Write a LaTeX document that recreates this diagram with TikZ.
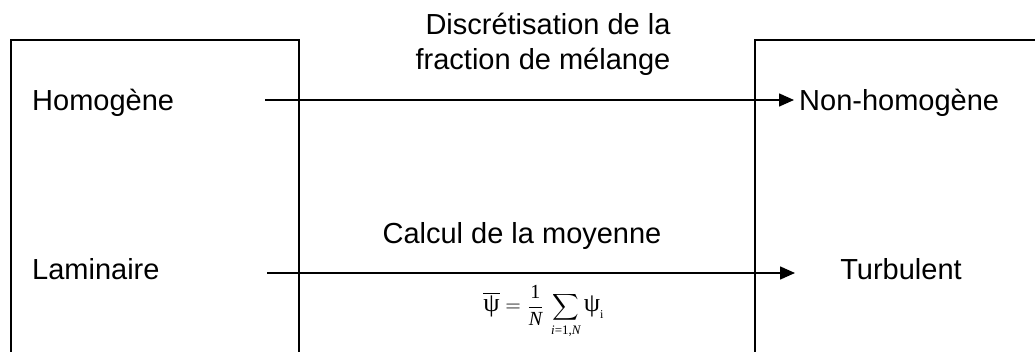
\documentclass[tikz,border=0pt]{standalone}
\usepackage{fontspec}
\setmainfont{Liberation Serif}
\newfontfamily\arialf{Liberation Sans}
\usetikzlibrary{arrows.meta}
\newcommand{\mypsi}{\mbox{\fontsize{13}{13}\selectfont ψ}}
\begin{document}
\begin{tikzpicture}[x=1pt,y=-1pt,
  box/.style={draw, line width=1.8pt, anchor=north west, inner sep=0pt, outer sep=0pt},
  lab/.style={font=\arialf\fontsize{29}{35}\selectfont, inner sep=0pt},
  formula/.style={font=\fontsize{10}{12}\selectfont, inner sep=0pt},
  arr/.style={line width=1.5pt, -{Triangle[length=15pt,width=13pt]}}]
\clip (0,0) rectangle (1035,352);
\fill[white] (0,0) rectangle (1035,352);
% boxes
\node[box, minimum width=288pt, minimum height=380pt] (leftbox) at (11,40) {};
\node[box, minimum width=320pt, minimum height=380pt] (rightbox) at (755,40) {};
% texts
\node[lab, anchor=base west] (homo) at (32,111) {Homogène};
\node[lab, anchor=base west] (nonhomo) at (799,111) {Non-homogène};
\node[lab, anchor=base west] (lam) at (32,280) {Laminaire};
\node[lab, anchor=base] (turb) at (901,280) {Turbulent};
\node[lab, anchor=base] (disc1) at (548,35) {Discrétisation de la};
\node[lab, anchor=base] (disc2) at (543,70) {fraction de mélange};
\node[lab, anchor=base] (calc) at (522,244) {Calcul de la moyenne};
\node[formula, anchor=base] (mean) at (544,312)
  {\scalebox{2}{$\displaystyle \overline{\mypsi} = \frac{\mbox{1}}{\mbox{\itshape N}}\,
   \mathop{\scalebox{0.92}{$\displaystyle\sum$}}\limits_{\mbox{\fontsize{6.5}{6.5}\selectfont\itshape i\upshape =1,\itshape N}}
   \mypsi_{\mbox{\fontsize{6}{6}\selectfont i}}$}};
% arrows
\coordinate (a1s) at (265,100);
\coordinate (a1e) at (794,100);
\coordinate (a2s) at (267,273);
\coordinate (a2e) at (795,273);
\draw[arr] (a1s) -- (a1e);
\draw[arr] (a2s) -- (a2e);
\end{tikzpicture}
\end{document}
